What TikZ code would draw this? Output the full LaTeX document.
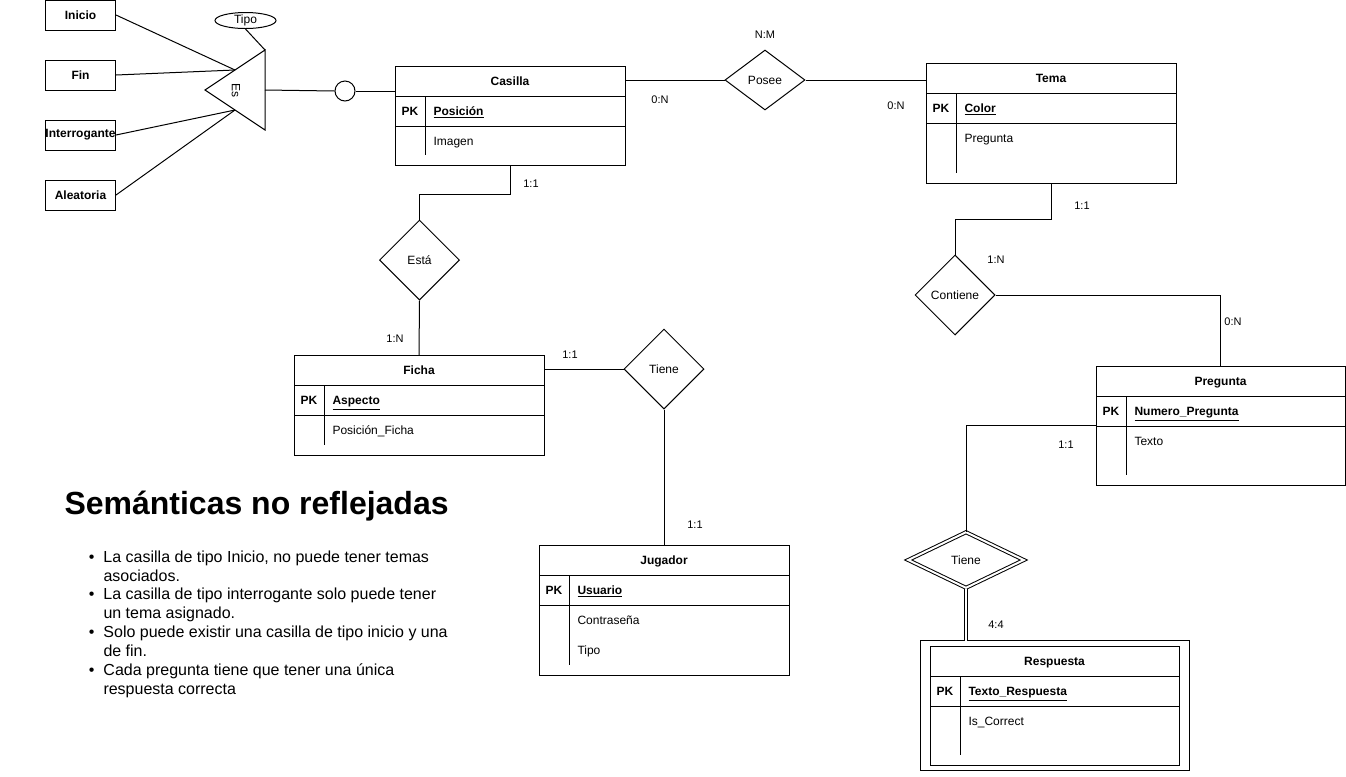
\documentclass[tikz,border=0pt]{standalone}
\usepackage{fontspec}
\setmainfont{Liberation Sans}
\usetikzlibrary{shapes.geometric}

% tabla de entidad: nombre, x, y, ancho, alto, titulo, clave, atributos
\newcommand{\entidad}[8]{%
  \begin{scope}[shift={(#2,#3)}]
    \node[tabla, minimum width=#4*0.75pt, minimum height=#5*0.75pt] (#1) at (#4/2,#5/2) {};
    \node[titulo] at (#4/2,19.5) {#6};
    \draw (0,30) -- (#4,30) (0,60) -- (#4,60) (30,30) -- (30,#5-10);
    \node[titulo] at (15,49.5) {PK};
    \node[campo, font=\bfseries\fontsize{9}{11}\selectfont] at (38,49.5) {\underline{#7}};
    \foreach \atr [count=\i] in {#8} \node[campo] at (38,49.5+30*\i) {\atr};
  \end{scope}}

\begin{document}
\begin{tikzpicture}[
      x=0.75pt, y=-0.75pt,
      line width=0.75pt,
      tabla/.style={draw, rectangle, inner sep=0pt, outer sep=0pt},
      titulo/.style={anchor=base, inner sep=0pt, font=\bfseries\fontsize{9}{11}\selectfont},
      campo/.style={anchor=base west, inner sep=0pt, font=\fontsize{9}{11}\selectfont},
      caja/.style={draw, minimum width=52.5pt, minimum height=22.5pt, inner sep=0pt,
                   font=\bfseries\fontsize{9}{11}\selectfont},
      relacion/.style={draw, diamond, aspect=1, inner sep=0pt, minimum width=60pt,
                   minimum height=60pt, font=\fontsize{9}{11}\selectfont},
      debil/.style={double, double distance=1.5pt, aspect=2, minimum width=87pt, minimum height=42pt},
      card/.style={font=\fontsize{8.25}{10}\selectfont}]
    \useasboundingbox (0,0) rectangle (1346,776);

    % subtipos de casilla
    \node[caja] (inicio)       at (80.5, 15) {Inicio};
    \node[caja] (fin)          at (80.5, 75) {Fin};
    \node[caja] (interrogante) at (80.5,135) {Interrogante};
    \node[caja] (aleatoria)    at (80.5,195) {Aleatoria};

    \draw (265,50) coordinate (tArr) -- (205,90) -- (265,130) -- cycle;
    \coordinate (esA) at (235, 70);
    \coordinate (esB) at (235,110);
    \coordinate (esD) at (265, 90);
    \node[rotate=-90, font=\fontsize{9}{11}\selectfont] (es) at (236,90) {Es};
    \node[draw, ellipse, minimum width=45.75pt, minimum height=12pt, inner sep=0pt,
          font=\fontsize{9}{11}\selectfont] (tipo) at (245.5,20.5) {Tipo};
    \node[draw, circle, minimum size=15pt, inner sep=0pt] (disc) at (345,91) {};

    % entidades
    \entidad{casilla}{395}{66}{230}{99}{Casilla}{Posición}{Imagen}
    \entidad{tema}{926}{63}{250}{120}{Tema}{Color}{Pregunta}
    \entidad{ficha}{294}{355}{250}{100}{Ficha}{Aspecto}{Posición\_Ficha}
    \entidad{pregunta}{1096}{366}{249}{119}{Pregunta}{Numero\_Pregunta}{Texto}
    \entidad{jugador}{539}{545}{250}{130}{Jugador}{Usuario}{Contraseña,Tipo}
    \node[tabla, minimum width=269*0.75pt, minimum height=130*0.75pt] (respuestaBorde) at (1054.5,705.5) {};
    \entidad{respuesta}{930}{646}{249}{119}{Respuesta}{Texto\_Respuesta}{Is\_Correct}

    % relaciones
    \node[relacion, aspect=1.33, minimum height=45pt] (posee) at (765,80) {Posee};
    \node[relacion] (esta)     at (419.5,260) {Está};
    \node[relacion] (tieneF)   at (664, 369) {Tiene};
    \node[relacion] (contiene) at (955, 295) {Contiene};
    \node[relacion, debil] (tieneR) at (966,560) {Tiene};

    \draw (inicio.east) -- (esA);
    \draw (fin.east) -- (esA);
    \draw (interrogante.east) -- (esB);
    \draw (aleatoria.east) -- (esB);
    \draw (tipo.south) -- (tArr);
    \draw (esD) -- (disc.west);
    \draw (disc.east) -- (disc.east -| casilla.west);

    \draw (posee.west) -- (posee.west -| casilla.east);
    \draw (posee.east) -- (posee.east -| tema.west);
    \draw (casilla.south) -- ++(0,29) -| (esta.north);
    \draw (esta.south) -- (ficha.north);
    \draw (tieneF.west) -- (tieneF.west -| ficha.east);
    \draw (tieneF.south) -- (jugador.north);
    \draw (tema.south) -- ++(0,36) -| (contiene.north);
    \draw (contiene.east) -| (pregunta.north);
    \draw (pregunta.west) -| (tieneR.north);
    \draw[double, double distance=1.5pt] (tieneR.south) -- (tieneR.south |- respuestaBorde.north);

    % cardinalidades
    \node[card] at (765,  35) {N:M};
    \node[card] at (660, 100) {0:N};
    \node[card] at (896, 106) {0:N};
    \node[card] at (531, 184) {1:1};
    \node[card] at (395, 339) {1:N};
    \node[card] at (570, 355) {1:1};
    \node[card] at (695, 525) {1:1};
    \node[card] at (1082,206) {1:1};
    \node[card] at (996, 260) {1:N};
    \node[card] at (1233,322) {0:N};
    \node[card] at (1066,445) {1:1};
    \node[card] at (996, 625) {4:4};

    % notas
    \node[anchor=base west, inner sep=0pt, font=\bfseries\fontsize{24}{28}\selectfont]
      (semantica) at (64,514) {Semánticas no reflejadas};
    \node[anchor=north west, inner sep=0pt, align=left, font=\fontsize{12}{14.2}\selectfont]
      (notas) at (103,550) {\llap{\textbullet\hspace{6.75pt}}La casilla de tipo Inicio, no puede tener temas\\
        asociados.\\
        \llap{\textbullet\hspace{6.75pt}}La casilla de tipo interrogante solo puede tener\\
        un tema asignado.\\
        \llap{\textbullet\hspace{6.75pt}}Solo puede existir una casilla de tipo inicio y una\\
        de fin.\\
        \llap{\textbullet\hspace{6.75pt}}Cada pregunta tiene que tener una única\\
        respuesta correcta};
  \end{tikzpicture}
\end{document}
